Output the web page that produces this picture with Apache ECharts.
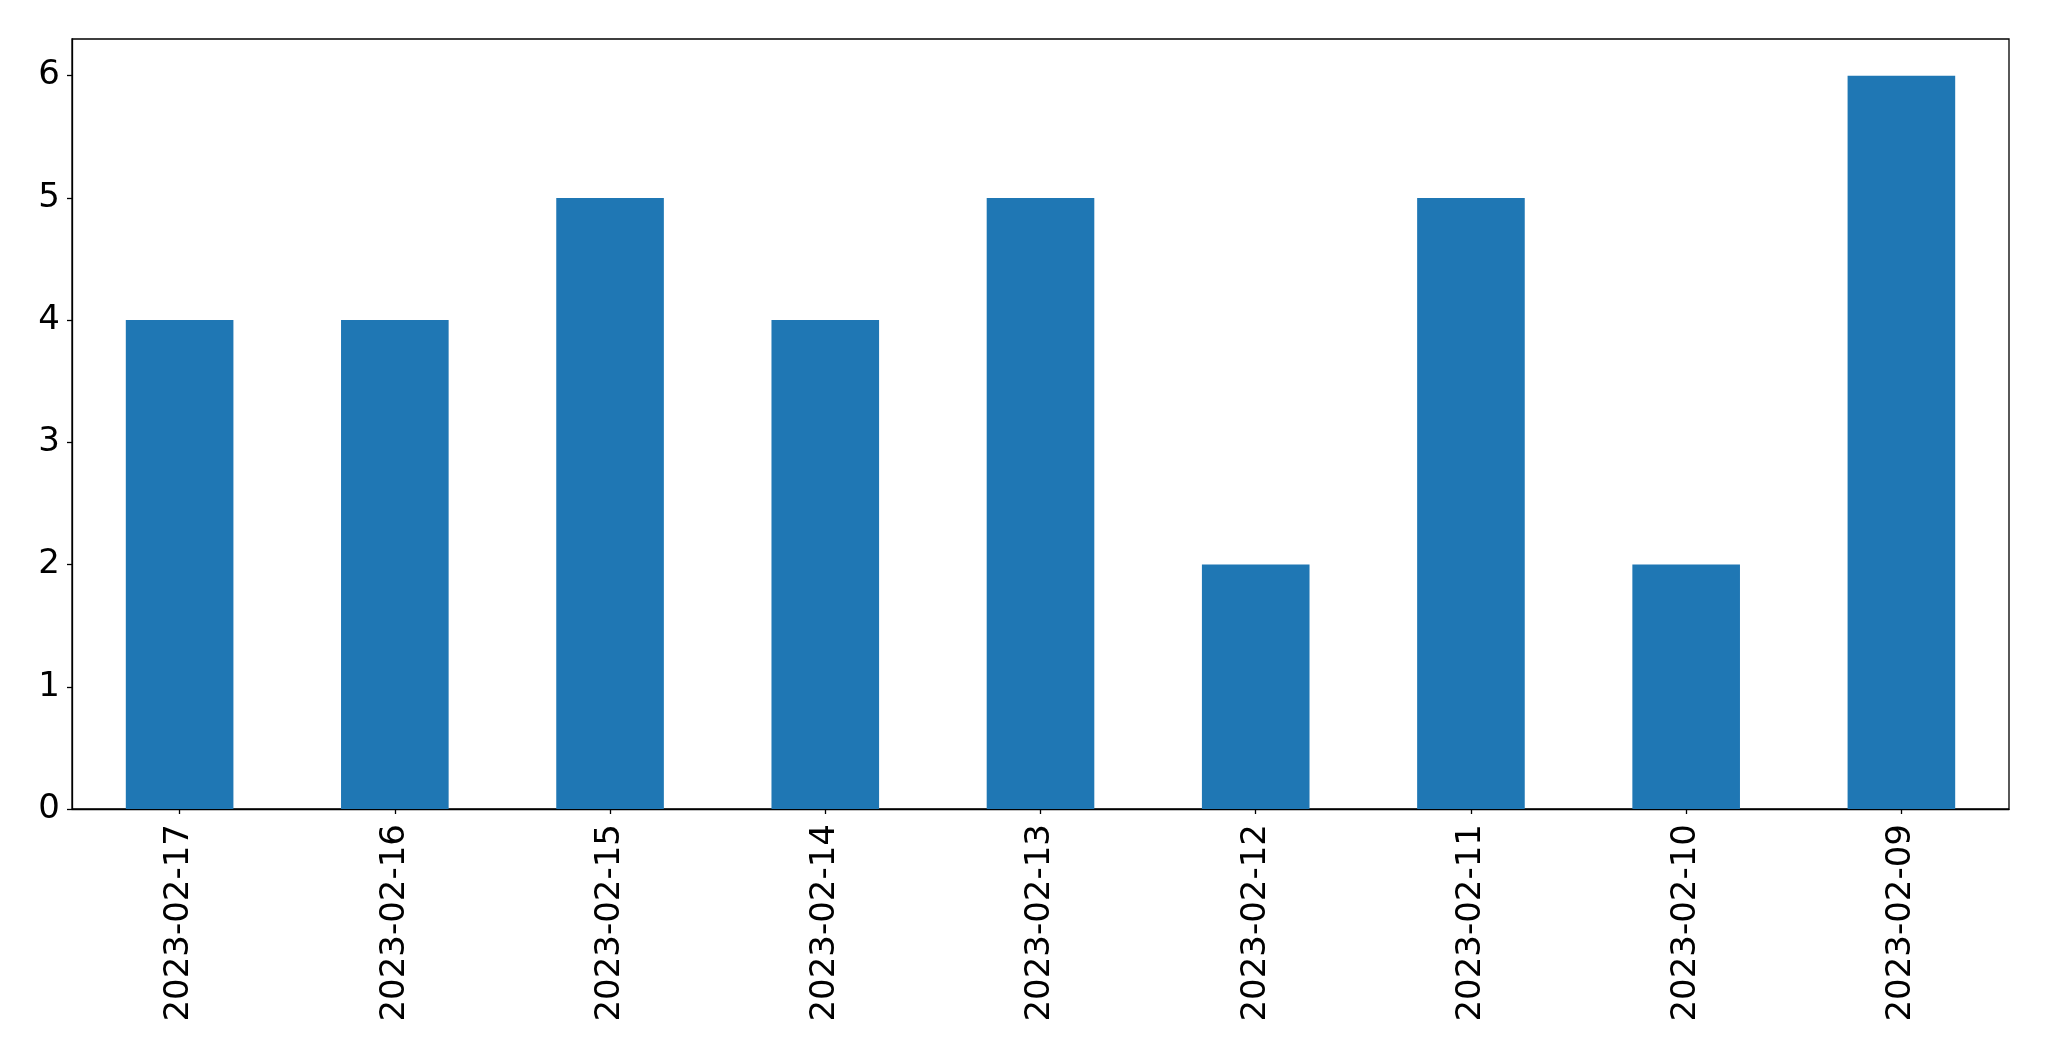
<!DOCTYPE html>
<html>
<head>
<meta charset="utf-8">
<script src="https://cdn.jsdelivr.net/npm/echarts@6/dist/echarts.min.js"></script>
<style>
html,body{margin:0;padding:0;background:#fff;}
#chart{width:2049px;height:1061px;}
</style>
</head>
<body>
<div id="chart"></div>
<script>
const categories = ["2023-02-17","2023-02-16","2023-02-15","2023-02-14","2023-02-13","2023-02-12","2023-02-11","2023-02-10","2023-02-09"];
const values = [4,4,5,4,5,2,5,2,6];
const yTicks = [0,1,2,3,4,5,6];

const chart = echarts.init(document.getElementById('chart'), null, {renderer:'canvas'});
const font = 'DejaVu Sans';
chart.setOption({
  animation:false,
  backgroundColor:'#ffffff',
  grid:{left:72,right:40,top:39,bottom:252,show:true,borderColor:'#000',borderWidth:1.3,backgroundColor:'transparent'},
  xAxis:{
    type:'category',
    data:categories,
    boundaryGap:true,
    axisLine:{show:true,lineStyle:{color:'#000',width:1.3}},
    axisTick:{show:true,alignWithLabel:true,length:5,lineStyle:{color:'#000',width:1.3}},
    axisLabel:{rotate:90,color:'#000',fontFamily:font,fontSize:34,margin:15,interval:0},
    splitLine:{show:false}
  },
  yAxis:{
    type:'value',
    min:0,max:6.3,interval:1,
    axisLine:{show:true,lineStyle:{color:'#000',width:1.3}},
    axisTick:{show:true,length:5,lineStyle:{color:'#000',width:1.3}},
    axisLabel:{color:'#000',fontFamily:font,fontSize:34,margin:12,showMaxLabel:false,
      formatter:function(v){return yTicks.indexOf(v)>=0?String(v):'';}},
    splitLine:{show:false}
  },
  series:[{
    type:'bar',
    data:values,
    barWidth:'50%',
    itemStyle:{color:'#1f77b4'}
  }]
});
</script>
</body>
</html>
